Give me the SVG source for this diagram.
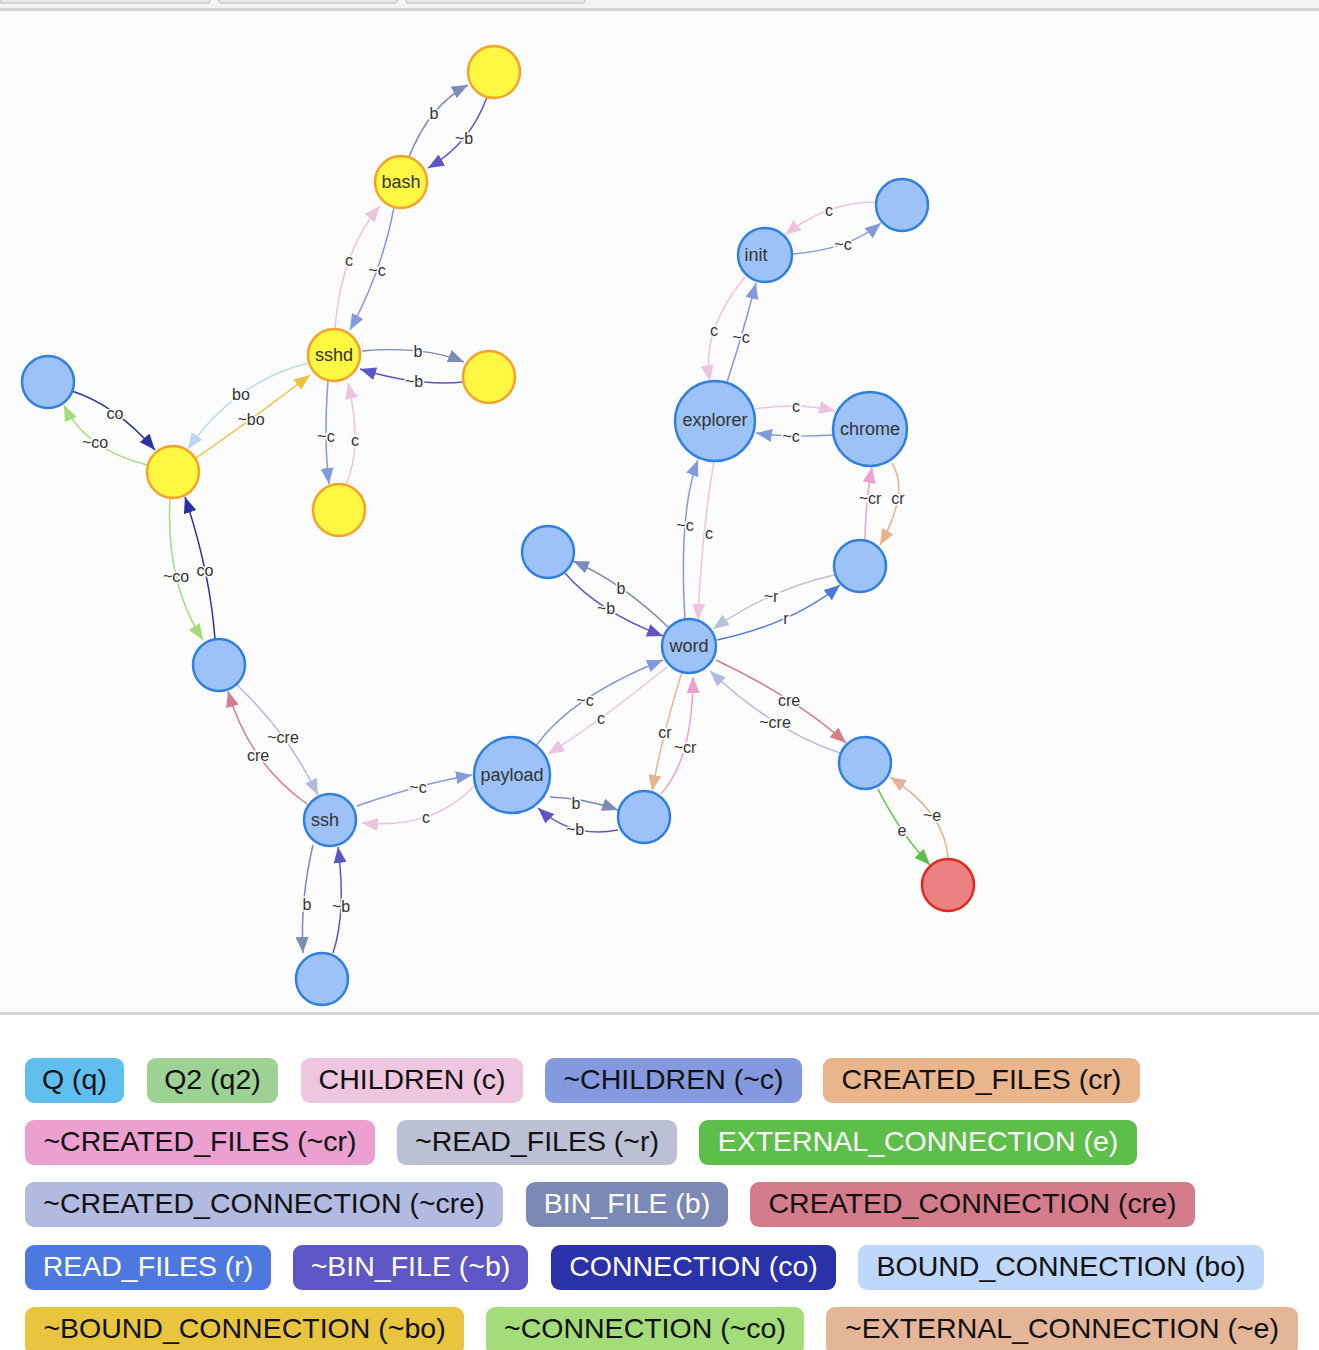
<svg xmlns="http://www.w3.org/2000/svg" width="1319" height="1350" viewBox="0 0 1319 1350">
<style>
.bg{fill:#fcfcfc}
.edge path{fill:none;stroke-width:1.5}
.edge text{font-family:"Liberation Sans",Arial,sans-serif;font-size:16px;fill:#333;text-anchor:middle;dominant-baseline:central;paint-order:stroke;stroke:#fcfcfc;stroke-width:3px}
.b{stroke:#7d8bb8;marker-end:url(#m-b)}
.nb{stroke:#5e55c5;marker-end:url(#m-nb)}
.c{stroke:#ecc2de;marker-end:url(#m-c)}
.nc{stroke:#8499dd;marker-end:url(#m-nc)}
.bo{stroke:#bcd6fb;marker-end:url(#m-bo)}
.nbo{stroke:#eac43c;marker-end:url(#m-nbo)}
.co{stroke:#2a31a8;marker-end:url(#m-co)}
.nco{stroke:#a2dc78;marker-end:url(#m-nco)}
.cre{stroke:#d47d8c;marker-end:url(#m-cre)}
.ncre{stroke:#b2badf;marker-end:url(#m-ncre)}
.cr{stroke:#e9b38c;marker-end:url(#m-cr)}
.ncr{stroke:#eba0d0;marker-end:url(#m-ncr)}
.r{stroke:#4a78de;marker-end:url(#m-r)}
.nr{stroke:#bcc0d6;marker-end:url(#m-nr)}
.e{stroke:#5abf48;marker-end:url(#m-e)}
.ne{stroke:#e3b496;marker-end:url(#m-ne)}
.node circle{stroke-width:2.5}
.blue circle{fill:#9cc2f8;stroke:#2f7fe0}
.yellow circle{fill:#fff842;stroke:#f5a12a}
.red circle{fill:#ea8080;stroke:#e2271d}
.node text{font-family:"Liberation Sans",Arial,sans-serif;font-size:18px;fill:#333;text-anchor:middle;dominant-baseline:central}
.pill rect{rx:9px;ry:9px}
.pill text{font-family:"Liberation Sans",Arial,sans-serif;font-size:28.5px;text-anchor:middle;dominant-baseline:central;fill:#111}
.pill.w text{fill:#fff}
</style>
<defs>
<marker id="m-b" markerUnits="userSpaceOnUse" markerWidth="16" markerHeight="13" viewBox="0 0 16 13" refX="16" refY="6.5" orient="auto"><path d="M0,0 L16,6.5 L0,13 z" fill="#7d8bb8"/></marker>
<marker id="m-nb" markerUnits="userSpaceOnUse" markerWidth="16" markerHeight="13" viewBox="0 0 16 13" refX="16" refY="6.5" orient="auto"><path d="M0,0 L16,6.5 L0,13 z" fill="#5e55c5"/></marker>
<marker id="m-c" markerUnits="userSpaceOnUse" markerWidth="16" markerHeight="13" viewBox="0 0 16 13" refX="16" refY="6.5" orient="auto"><path d="M0,0 L16,6.5 L0,13 z" fill="#ecc2de"/></marker>
<marker id="m-nc" markerUnits="userSpaceOnUse" markerWidth="16" markerHeight="13" viewBox="0 0 16 13" refX="16" refY="6.5" orient="auto"><path d="M0,0 L16,6.5 L0,13 z" fill="#8499dd"/></marker>
<marker id="m-bo" markerUnits="userSpaceOnUse" markerWidth="16" markerHeight="13" viewBox="0 0 16 13" refX="16" refY="6.5" orient="auto"><path d="M0,0 L16,6.5 L0,13 z" fill="#bcd6fb"/></marker>
<marker id="m-nbo" markerUnits="userSpaceOnUse" markerWidth="16" markerHeight="13" viewBox="0 0 16 13" refX="16" refY="6.5" orient="auto"><path d="M0,0 L16,6.5 L0,13 z" fill="#eac43c"/></marker>
<marker id="m-co" markerUnits="userSpaceOnUse" markerWidth="16" markerHeight="13" viewBox="0 0 16 13" refX="16" refY="6.5" orient="auto"><path d="M0,0 L16,6.5 L0,13 z" fill="#2a31a8"/></marker>
<marker id="m-nco" markerUnits="userSpaceOnUse" markerWidth="16" markerHeight="13" viewBox="0 0 16 13" refX="16" refY="6.5" orient="auto"><path d="M0,0 L16,6.5 L0,13 z" fill="#a2dc78"/></marker>
<marker id="m-cre" markerUnits="userSpaceOnUse" markerWidth="16" markerHeight="13" viewBox="0 0 16 13" refX="16" refY="6.5" orient="auto"><path d="M0,0 L16,6.5 L0,13 z" fill="#d47d8c"/></marker>
<marker id="m-ncre" markerUnits="userSpaceOnUse" markerWidth="16" markerHeight="13" viewBox="0 0 16 13" refX="16" refY="6.5" orient="auto"><path d="M0,0 L16,6.5 L0,13 z" fill="#b2badf"/></marker>
<marker id="m-cr" markerUnits="userSpaceOnUse" markerWidth="16" markerHeight="13" viewBox="0 0 16 13" refX="16" refY="6.5" orient="auto"><path d="M0,0 L16,6.5 L0,13 z" fill="#e9b38c"/></marker>
<marker id="m-ncr" markerUnits="userSpaceOnUse" markerWidth="16" markerHeight="13" viewBox="0 0 16 13" refX="16" refY="6.5" orient="auto"><path d="M0,0 L16,6.5 L0,13 z" fill="#eba0d0"/></marker>
<marker id="m-r" markerUnits="userSpaceOnUse" markerWidth="16" markerHeight="13" viewBox="0 0 16 13" refX="16" refY="6.5" orient="auto"><path d="M0,0 L16,6.5 L0,13 z" fill="#4a78de"/></marker>
<marker id="m-nr" markerUnits="userSpaceOnUse" markerWidth="16" markerHeight="13" viewBox="0 0 16 13" refX="16" refY="6.5" orient="auto"><path d="M0,0 L16,6.5 L0,13 z" fill="#bcc0d6"/></marker>
<marker id="m-e" markerUnits="userSpaceOnUse" markerWidth="16" markerHeight="13" viewBox="0 0 16 13" refX="16" refY="6.5" orient="auto"><path d="M0,0 L16,6.5 L0,13 z" fill="#5abf48"/></marker>
<marker id="m-ne" markerUnits="userSpaceOnUse" markerWidth="16" markerHeight="13" viewBox="0 0 16 13" refX="16" refY="6.5" orient="auto"><path d="M0,0 L16,6.5 L0,13 z" fill="#e3b496"/></marker>
</defs>

<!-- page background -->
<rect x="0" y="0" width="1319" height="1350" fill="#ffffff"/>
<rect x="0" y="0" width="1319" height="9" fill="#f3f3f3"/>
<rect x="0" y="-4" width="210" height="7" rx="2" fill="#e9e9e9" stroke="#b9b9b9" stroke-width="1"/>
<rect x="219" y="-4" width="178" height="7" rx="2" fill="#e9e9e9" stroke="#b9b9b9" stroke-width="1"/>
<rect x="406" y="-4" width="179" height="7" rx="2" fill="#e9e9e9" stroke="#b9b9b9" stroke-width="1"/>
<rect x="0" y="8" width="1319" height="3" fill="#d4d4d4"/>
<rect class="bg" x="0" y="11" width="1319" height="1001"/>
<rect x="0" y="1012" width="1319" height="3" fill="#d4d4d4"/>

<g id="connectors">
<g class="edge"><path class="b" d="M409,157 Q429.5,105 468,85"/><text x="434" y="113">b</text></g>
<g class="edge"><path class="nb" d="M487,97 Q470.5,143.5 428,168"/><text x="464" y="138">~b</text></g>
<g class="edge"><path class="c" d="M335,329 Q340.5,252.5 380,206"/><text x="349" y="260">c</text></g>
<g class="edge"><path class="nc" d="M394,208 Q382,271 350,330"/><text x="377" y="270">~c</text></g>
<g class="edge"><path class="b" d="M362,351 Q423,345.5 464,362"/><text x="418" y="351">b</text></g>
<g class="edge"><path class="nb" d="M463,382 Q416.5,386.5 360,369"/><text x="414" y="381">~b</text></g>
<g class="edge"><path class="nc" d="M328,381 Q323.5,439.5 329,484"/><text x="326" y="436">~c</text></g>
<g class="edge"><path class="c" d="M346,485 Q363,446 348,383"/><text x="355" y="440">c</text></g>
<g class="edge"><path class="bo" d="M308,363 Q234,382 188,449"/><text x="241" y="394">bo</text></g>
<g class="edge"><path class="nbo" d="M196,458 Q249,421.5 310,375"/><text x="251" y="419">~bo</text></g>
<g class="edge"><path class="co" d="M72,391 Q116.5,405.5 155,450"/><text x="115" y="413">co</text></g>
<g class="edge"><path class="nco" d="M147,465 Q84.5,449 64,405"/><text x="95" y="442">~co</text></g>
<g class="edge"><path class="nco" d="M170,498 Q165.5,583 203,640"/><text x="176" y="576">~co</text></g>
<g class="edge"><path class="co" d="M215,639 Q210,572 185,497"/><text x="205" y="570">co</text></g>
<g class="edge"><path class="ncre" d="M236,684 Q289,734.5 318,795"/><text x="283" y="737">~cre</text></g>
<g class="edge"><path class="cre" d="M307,804 Q248.5,762.5 228,691"/><text x="258" y="755">cre</text></g>
<g class="edge"><path class="nc" d="M357,806 Q421.5,783.5 472,775"/><text x="418" y="787">~c</text></g>
<g class="edge"><path class="c" d="M474,786 Q434,829.5 362,823"/><text x="426" y="817">c</text></g>
<g class="edge"><path class="b" d="M313,845 Q300,900 303,953"/><text x="307" y="904">b</text></g>
<g class="edge"><path class="nb" d="M333,953 Q346.5,912 338,847"/><text x="341" y="906">~b</text></g>
<g class="edge"><path class="nc" d="M536,746 Q570.5,697 663,660"/><text x="585" y="700">~c</text></g>
<g class="edge"><path class="c" d="M667,667 Q594.5,725.5 548,754"/><text x="601" y="718">c</text></g>
<g class="edge"><path class="b" d="M550,797 Q584,798 618,810"/><text x="576" y="803">b</text></g>
<g class="edge"><path class="nb" d="M618,830 Q572,839 538,808"/><text x="575" y="829">~b</text></g>
<g class="edge"><path class="cr" d="M682,672 Q663,732.5 652,791"/><text x="665" y="732">cr</text></g>
<g class="edge"><path class="ncr" d="M661,794 Q693,758.5 693,677"/><text x="685" y="747">~cr</text></g>
<g class="edge"><path class="b" d="M668,627 Q621.5,582 573,561"/><text x="621" y="588">b</text></g>
<g class="edge"><path class="nb" d="M565,573 Q598,611.5 663,636"/><text x="606" y="608">~b</text></g>
<g class="edge"><path class="nc" d="M685,620 Q678.5,510 698,460"/><text x="685" y="525">~c</text></g>
<g class="edge"><path class="c" d="M714,461 Q702,529.5 698,620"/><text x="709" y="533">c</text></g>
<g class="edge"><path class="r" d="M717,640 Q793.5,623.5 840,585"/><text x="786" y="618">r</text></g>
<g class="edge"><path class="nr" d="M834,575 Q768.5,590 713,629"/><text x="771" y="596">~r</text></g>
<g class="edge"><path class="cre" d="M716,660 Q797,698.5 846,743"/><text x="789" y="700">cre</text></g>
<g class="edge"><path class="ncre" d="M840,753 Q775,732 710,671"/><text x="775" y="722">~cre</text></g>
<g class="edge"><path class="e" d="M878,789 Q900,833 930,865"/><text x="902" y="830">e</text></g>
<g class="edge"><path class="ne" d="M948,858 Q945,812.5 890,777"/><text x="932" y="815">~e</text></g>
<g class="edge"><path class="nc" d="M727,382 Q740.5,341.5 756,283"/><text x="741" y="337">~c</text></g>
<g class="edge"><path class="c" d="M745,277 Q700.5,331 710,381"/><text x="714" y="330">c</text></g>
<g class="edge"><path class="nc" d="M793,254 Q849,249.5 881,223"/><text x="843" y="244">~c</text></g>
<g class="edge"><path class="c" d="M877,202 Q827,201.5 785,235"/><text x="829" y="210">c</text></g>
<g class="edge"><path class="c" d="M755,409 Q797,402 835,411"/><text x="796" y="406">c</text></g>
<g class="edge"><path class="nc" d="M833,435 Q787.5,438 756,433"/><text x="791" y="436">~c</text></g>
<g class="edge"><path class="cr" d="M892,463 Q910,492 880,545"/><text x="898" y="498">cr</text></g>
<g class="edge"><path class="ncr" d="M865,540 Q865.5,502.5 872,467"/><text x="870" y="498">~cr</text></g>
</g>

<g id="n-y-top" class="node yellow"><circle cx="494" cy="72" r="26"/></g>
<g id="n-bash" class="node yellow"><circle cx="401" cy="182" r="26"/><text x="401" y="182">bash</text></g>
<g id="n-sshd" class="node yellow"><circle cx="334" cy="355" r="26"/><text x="334" y="355">sshd</text></g>
<g id="n-y-right" class="node yellow"><circle cx="489" cy="377" r="26"/></g>
<g id="n-y-below" class="node yellow"><circle cx="339" cy="510" r="26"/></g>
<g id="n-y-center" class="node yellow"><circle cx="173" cy="472" r="26"/></g>
<g id="n-b-left" class="node blue"><circle cx="48" cy="382" r="26"/></g>
<g id="n-b-mid" class="node blue"><circle cx="219" cy="665" r="26"/></g>
<g id="n-ssh" class="node blue"><circle cx="330" cy="820" r="26"/><text x="325" y="820">ssh</text></g>
<g id="n-b-bottom" class="node blue"><circle cx="322" cy="979" r="26"/></g>
<g id="n-payload" class="node blue"><circle cx="512" cy="775" r="38"/><text x="512" y="775">payload</text></g>
<g id="n-b-pay" class="node blue"><circle cx="644" cy="817" r="26"/></g>
<g id="n-word" class="node blue"><circle cx="689" cy="646" r="27"/><text x="689" y="646">word</text></g>
<g id="n-b-wordleft" class="node blue"><circle cx="548" cy="552" r="26"/></g>
<g id="n-b-wordright" class="node blue"><circle cx="860" cy="566" r="26"/></g>
<g id="n-explorer" class="node blue"><circle cx="715" cy="421" r="40"/><text x="715" y="420">explorer</text></g>
<g id="n-chrome" class="node blue"><circle cx="870" cy="429" r="37"/><text x="870" y="429">chrome</text></g>
<g id="n-init" class="node blue"><circle cx="765" cy="255" r="27"/><text x="756" y="255">init</text></g>
<g id="n-b-inittop" class="node blue"><circle cx="902" cy="205" r="26"/></g>
<g id="n-b-cre" class="node blue"><circle cx="865" cy="763" r="26"/></g>
<g id="n-red" class="node red"><circle cx="948" cy="885" r="26"/></g>

<g id="legend">
<g class="pill"><rect x="25" y="1058" width="99" height="45" fill="#61bfee"/><text x="74.5" y="1078.5">Q (q)</text></g>
<g class="pill"><rect x="147" y="1058" width="131" height="45" fill="#9ed295"/><text x="212.5" y="1078.5">Q2 (q2)</text></g>
<g class="pill"><rect x="301" y="1058" width="222" height="45" fill="#eec6e0"/><text x="412" y="1078.5">CHILDREN (c)</text></g>
<g class="pill"><rect x="545" y="1058" width="257" height="45" fill="#8499de"/><text x="673.5" y="1078.5">~CHILDREN (~c)</text></g>
<g class="pill"><rect x="823" y="1058" width="317" height="45" fill="#e8b58c"/><text x="981.5" y="1078.5">CREATED_FILES (cr)</text></g>

<g class="pill"><rect x="25" y="1120" width="350" height="45" fill="#eba0d0"/><text x="200" y="1140.5">~CREATED_FILES (~cr)</text></g>
<g class="pill"><rect x="397" y="1120" width="280" height="45" fill="#bcc0d5"/><text x="537" y="1140.5">~READ_FILES (~r)</text></g>
<g class="pill w"><rect x="699" y="1120" width="438" height="45" fill="#5dbf4a"/><text x="918" y="1140.5">EXTERNAL_CONNECTION (e)</text></g>

<g class="pill"><rect x="25" y="1182" width="478" height="45" fill="#b1bae0"/><text x="264" y="1202.5">~CREATED_CONNECTION (~cre)</text></g>
<g class="pill w"><rect x="526" y="1182" width="202" height="45" fill="#7b8ab5"/><text x="627" y="1202.5">BIN_FILE (b)</text></g>
<g class="pill"><rect x="750" y="1182" width="445" height="45" fill="#d47c8b"/><text x="972.5" y="1202.5">CREATED_CONNECTION (cre)</text></g>

<g class="pill w"><rect x="25" y="1245" width="246" height="45" fill="#4c78df"/><text x="148" y="1265.5">READ_FILES (r)</text></g>
<g class="pill w"><rect x="293" y="1245" width="235" height="45" fill="#5e56c4"/><text x="410.5" y="1265.5">~BIN_FILE (~b)</text></g>
<g class="pill w"><rect x="551" y="1245" width="285" height="45" fill="#2a32aa"/><text x="693.5" y="1265.5">CONNECTION (co)</text></g>
<g class="pill"><rect x="858" y="1245" width="406" height="45" fill="#bdd8fb"/><text x="1061" y="1265.5">BOUND_CONNECTION (bo)</text></g>

<g class="pill"><rect x="25" y="1307" width="439" height="48" fill="#e9c43f"/><text x="244.5" y="1328">~BOUND_CONNECTION (~bo)</text></g>
<g class="pill"><rect x="486" y="1307" width="318" height="48" fill="#a3dc78"/><text x="645" y="1328">~CONNECTION (~co)</text></g>
<g class="pill"><rect x="826" y="1307" width="472" height="48" fill="#e5b598"/><text x="1062" y="1328">~EXTERNAL_CONNECTION (~e)</text></g>
</g>
</svg>
